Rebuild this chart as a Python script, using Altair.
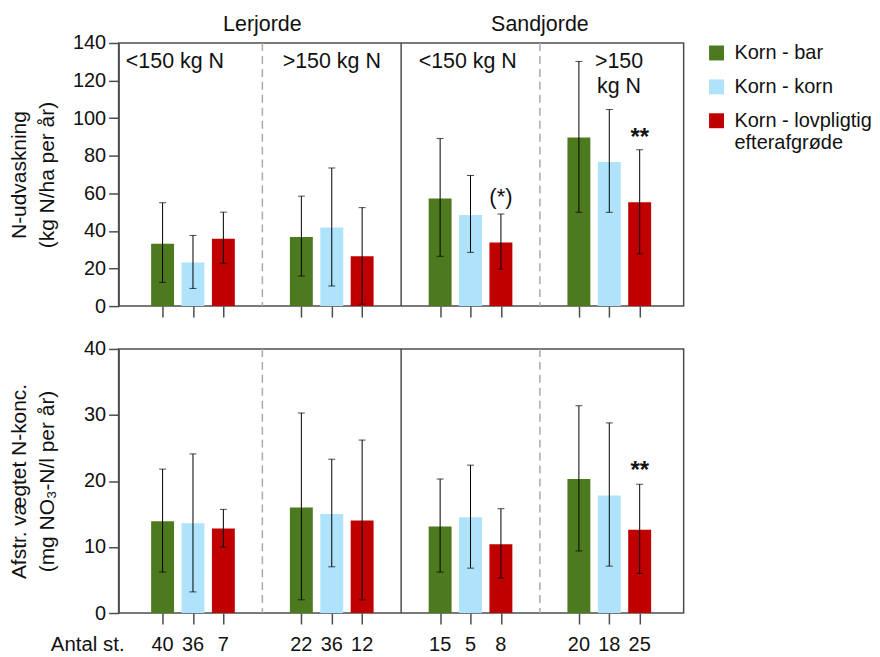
import altair as alt
import pandas as pd

FONT = "Liberation Sans"

groups = ["Lerjorde <150", "Lerjorde >150", "Sandjorde <150", "Sandjorde >150"]
series = ["Korn - bar", "Korn - korn", "Korn - lovpligtig efterafgrøde"]
colors = ["#4e7a1f", "#aee3fb", "#c00000"]

# N-udvaskning (kg N/ha per år): mean, lower and upper error
leach_mean = [33.2, 23.2, 35.9, 36.8, 41.8, 26.5, 57.3, 48.5, 33.9, 89.7, 76.7, 55.3]
leach_lo = [12.6, 9.4, 22.8, 16.0, 10.7, 1.0, 26.5, 28.6, 19.7, 49.9, 49.9, 27.8]
leach_hi = [55.0, 37.6, 50.0, 58.5, 73.5, 52.4, 89.2, 69.5, 49.0, 130.2, 104.6, 83.2]

# Afstrømningsvægtet N-koncentration (mg NO3-N/l per år)
conc_mean = [13.9, 13.6, 12.8, 16.0, 15.0, 14.0, 13.1, 14.5, 10.4, 20.3, 17.8, 12.6]
conc_lo = [6.2, 3.2, 10.0, 2.0, 7.0, 2.0, 6.2, 6.8, 5.3, 9.4, 7.1, 6.0]
conc_hi = [21.8, 24.1, 15.7, 30.3, 23.3, 26.2, 20.3, 22.4, 15.8, 31.4, 28.8, 19.5]

counts = [40, 36, 7, 22, 36, 12, 15, 5, 8, 20, 18, 25]

soil_titles = ["Lerjorde", "Sandjorde"]
sub_labels = ["<150 kg N", ">150 kg N", "<150 kg N", ">150\nkg N"]
sub_label_x = [0.37, 1.5, 2.48, 3.57]

# significance marks: (bar index, text, y value, bold)
top_marks = [(8, "(*)", 58.0, False), (11, "**", 89.6, True)]
bottom_marks = [(11, "**", 21.5, True)]

rows = []
for i in range(12):
    g, s = divmod(i, 3)
    rows.append(dict(
        group=groups[g], series=series[s], pos=g + 0.5 + (s - 1) * 0.219,
        leach=leach_mean[i], leach_lo=leach_lo[i], leach_hi=leach_hi[i],
        conc=conc_mean[i], conc_lo=conc_lo[i], conc_hi=conc_hi[i],
        n=str(counts[i]),
    ))
df = pd.DataFrame(rows)
centers = df["pos"].tolist()

W = 567
xscale = alt.Scale(domain=[0, 4], nice=False, zero=False)


def panel(mcol, lcol, hcol, ymax, ystep, title, height, marks, top, show_legend):
    base = alt.Chart(df)
    xenc = alt.X("pos:Q", scale=xscale,
                 axis=alt.Axis(values=centers, labels=False, ticks=True, tickSize=11,
                               domain=False, grid=False, title=None))
    yscale = alt.Scale(domain=[0, ymax], nice=False)
    yaxis = alt.Axis(values=list(range(0, ymax + 1, ystep)), title=title,
                     tickSize=10, labelPadding=3, minExtent=48, maxExtent=48,
                     titlePadding=13, titleLineHeight=28, labelOverlap=False,
                     labelFontSize=20)
    yenc = alt.Y(f"{mcol}:Q", scale=yscale, axis=yaxis)
    legend = alt.Legend(
        title=None, orient="none", legendX=590, legendY=0,
        labelExpr="datum.label == 'Korn - lovpligtig efterafgrøde' ? ['Korn - lovpligtig', 'efterafgrøde'] : datum.label",
    ) if show_legend else None
    bars = base.mark_bar(size=23).encode(
        x=xenc, y=yenc,
        color=alt.Color("series:N", scale=alt.Scale(domain=series, range=colors),
                        legend=legend),
    )
    err = base.mark_rule(color="black", strokeWidth=1).encode(
        x="pos:Q", y=alt.Y(f"{lcol}:Q", axis=yaxis), y2=f"{hcol}:Q")
    cap_lo = base.mark_tick(orient="horizontal", size=7, thickness=1, color="black").encode(
        x="pos:Q", y=alt.Y(f"{lcol}:Q", axis=yaxis))
    cap_hi = base.mark_tick(orient="horizontal", size=7, thickness=1, color="black").encode(
        x="pos:Q", y=alt.Y(f"{hcol}:Q", axis=yaxis))
    dashed = alt.Chart(pd.DataFrame({"x": [1, 3]})).mark_rule(
        color="#aaaaaa", strokeDash=[8, 5], strokeWidth=1.5).encode(x="x:Q")
    solid = alt.Chart(pd.DataFrame({"x": [2]})).mark_rule(
        color="#4d4d4d", strokeWidth=1.5).encode(x="x:Q")
    layers = [dashed, solid, bars, err, cap_lo, cap_hi]
    for bold in (True, False):
        sel = [m for m in marks if m[3] == bold]
        if not sel:
            continue
        mdf = pd.DataFrame({"x": [centers[m[0]] for m in sel],
                            "t": [m[1] for m in sel],
                            "y": [m[2] for m in sel]})
        layers.append(alt.Chart(mdf).mark_text(
            fontSize=24 if bold else 22, fontWeight="bold" if bold else "normal",
            baseline="middle").encode(
            x="x:Q", y=alt.Y("y:Q", axis=yaxis), text="t:N"))
    if top:
        sdf = pd.DataFrame({"x": [1, 3], "t": soil_titles})
        heads = alt.Chart(sdf).mark_text(fontSize=21.5, baseline="middle").encode(
            x="x:Q", y=alt.value(-18), text="t:N")
        ldf = pd.DataFrame({"x": sub_label_x, "t": sub_labels})
        subs = alt.Chart(ldf).mark_text(fontSize=21.5, baseline="top", lineBreak="\n",
                                         lineHeight=25).encode(
            x="x:Q", y=alt.value(8), text="t:N")
        layers += [heads, subs]
    else:
        cnt = base.mark_text(fontSize=20, baseline="middle").encode(
            x="pos:Q", y=alt.value(height + 32), text="n:N")
        ant = alt.Chart(pd.DataFrame({"t": ["Antal st."]})).mark_text(
            fontSize=20.5, baseline="middle", align="left").encode(
            x=alt.value(-68), y=alt.value(height + 32), text="t:N")
        layers += [cnt, ant]
    return alt.layer(*layers).properties(width=W, height=height)


top = panel("leach", "leach_lo", "leach_hi", 140, 20,
            ["N-udvaskning", "(kg N/ha per år)"], 264, top_marks, True, True)
bottom = panel("conc", "conc_lo", "conc_hi", 40, 10,
               ["Afstr. vægtet N-konc.", "(mg NO₃-N/l per år)"], 265, bottom_marks, False, False)

chart = alt.vconcat(top, bottom, spacing=19).properties(
    padding={"left": 0, "top": 4, "right": 0, "bottom": 0}
).configure_view(stroke="#4d4d4d", strokeWidth=1.5).configure_axis(
    labelFont=FONT, titleFont=FONT, labelFontSize=20, titleFontSize=21,
    titleFontWeight="normal", labelColor="#111111", titleColor="#111111",
    tickColor="#4d4d4d", domainColor="#4d4d4d", tickWidth=1.5, domainWidth=1.5, grid=False,
    labelOverlap=False,
).configure_text(font=FONT, color="#111111").configure_legend(
    labelFont=FONT, labelFontSize=20, labelColor="#111111", symbolType="square",
    symbolSize=225, symbolStrokeWidth=0, rowPadding=14, labelOffset=8, padding=0,
    labelLimit=300,
)

chart.save("out.html", embed_options={"renderer": "svg", "actions": False})
